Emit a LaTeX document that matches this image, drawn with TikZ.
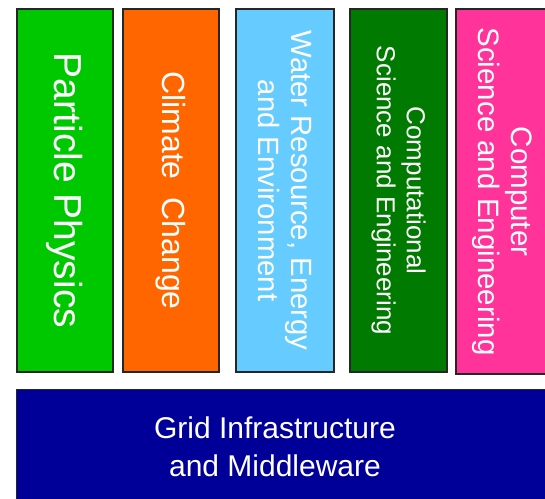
\documentclass[tikz,border=0pt]{standalone}
\usepackage{fontspec}
\setmainfont{Liberation Sans}
\usepackage{tikz}
\definecolor{physgreen}{RGB}{0,200,0}
\definecolor{climorange}{RGB}{255,102,0}
\definecolor{waterblue}{RGB}{102,204,255}
\definecolor{compgreen}{RGB}{0,122,0}
\definecolor{cspink}{RGB}{255,51,153}
\definecolor{gridnavy}{RGB}{0,0,153}

\begin{document}
\begin{tikzpicture}[x=1pt,y=-1pt,
  column/.style={draw=black!85,line width=1.2pt,text=white,rotate=-90,
    minimum width=363pt,inner sep=0pt,align=center},
  layer/.style={draw=black!85,line width=1.2pt,fill=gridnavy,inner sep=0pt}]
\clip (0,0) rectangle (545,498);
\fill[white] (0,0) rectangle (545,498);
% application columns
\node[column,fill=physgreen,minimum height=96pt,font=\fontsize{39}{45}\selectfont] (physics) at (65,190.5) {Particle Physics};
\node[column,fill=climorange,minimum height=96pt,font=\fontsize{32}{38}\selectfont] (climate) at (171,190.5) {Climate\ \ Change};
\node[column,fill=waterblue,minimum height=98pt,font=\fontsize{29.3}{33}\selectfont] (water) at (285,190.5) {Water Resource, Energy\\and Environment};
\node[column,fill=compgreen,minimum height=97pt,font=\fontsize{26}{30}\selectfont] (compsci) at (398.5,190.5) {Computational\\Science and Engineering};
\node[column,fill=cspink,minimum height=92pt,minimum width=365pt,font=\fontsize{29.5}{33}\selectfont] (computer) at (502,191.5) {Computer\\Science and Engineering};
% grid layer
\node[layer,minimum width=560pt,minimum height=130pt,anchor=north west] (grid) at (16,389) {};
\node[text=white,align=center,font=\fontsize{30}{38}\selectfont] (gridtext) at (275,447) {Grid Infrastructure\\and Middleware};
\end{tikzpicture}
\end{document}
